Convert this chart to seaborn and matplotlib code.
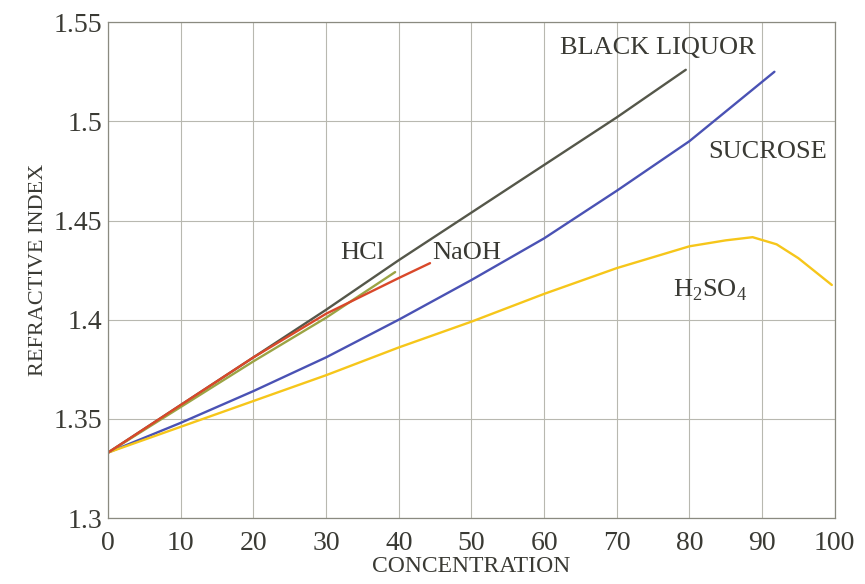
import numpy as np
import pandas as pd
import matplotlib
matplotlib.use("Agg")
import matplotlib.pyplot as plt
import seaborn as sns

# values
black_x = [0, 10, 20, 30, 40, 50, 60, 70, 79.5]
black_y = [1.333, 1.357, 1.381, 1.405, 1.430, 1.454, 1.478, 1.502, 1.526]

sucrose_x = [0, 10, 20, 30, 40, 50, 60, 70, 80, 91.7]
sucrose_y = [1.333, 1.348, 1.364, 1.381, 1.400, 1.420, 1.441, 1.465, 1.490, 1.525]

h2so4_x = [0, 10, 20, 30, 40, 50, 60, 70, 80, 85, 88.7, 92, 95, 99.6]
h2so4_y = [1.333, 1.346, 1.359, 1.372, 1.386, 1.399, 1.413, 1.426, 1.437, 1.440, 1.4416, 1.438, 1.431, 1.4175]

hcl_x = [0, 10, 20, 30, 39.5]
hcl_y = [1.333, 1.356, 1.379, 1.401, 1.424]

naoh_x = [0, 10, 20, 30, 40, 44.3]
naoh_y = [1.333, 1.357, 1.381, 1.403, 1.421, 1.4285]

series = {
    "BLACK LIQUOR": (black_x, black_y),
    "SUCROSE": (sucrose_x, sucrose_y),
    "H2SO4": (h2so4_x, h2so4_y),
    "HCl": (hcl_x, hcl_y),
    "NaOH": (naoh_x, naoh_y),
}
colors = {
    "BLACK LIQUOR": "#55574a",
    "SUCROSE": "#4a52b4",
    "H2SO4": "#f6c61a",
    "HCl": "#9ba444",
    "NaOH": "#d9482a",
}

rows = []
for name, (xs, ys) in series.items():
    for x, y in zip(xs, ys):
        rows.append({"name": name, "conc": x, "ri": y})
df = pd.DataFrame(rows)

sns.set_style("white")
plt.rcParams["font.family"] = ["Liberation Serif", "DejaVu Serif"]
plt.rcParams["mathtext.fontset"] = "custom"
plt.rcParams["mathtext.rm"] = "Liberation Serif"

fig = plt.figure(figsize=(8.65, 5.84), dpi=100)
ax = fig.add_axes([0.125, 0.113, 0.840, 0.849])

sns.lineplot(data=df, x="conc", y="ri", hue="name", palette=colors,
             estimator=None, sort=False, linewidth=1.7, legend=False, ax=ax)

ax.set_xlim(0, 100)
ax.set_ylim(1.3, 1.55)
ax.set_xticks(np.arange(0, 101, 10))
ax.set_yticks([1.3, 1.35, 1.4, 1.45, 1.5, 1.55])
ax.set_yticklabels(["1.3", "1.35", "1.4", "1.45", "1.5", "1.55"])
ax.grid(True, color="#b8b8b0", linewidth=0.8)
for s in ax.spines.values():
    s.set_color("#8a8a80")
    s.set_linewidth(0.9)
tc = "#3a3a34"
ax.tick_params(axis="x", labelsize=20, colors=tc, length=3, width=0.8, pad=6)
ax.tick_params(axis="y", labelsize=20, colors=tc, length=3, width=0.8, pad=1)

ax.set_xlabel("CONCENTRATION", fontsize=17, color=tc, labelpad=0)
ax.set_ylabel("REFRACTIVE INDEX", fontsize=16, color=tc, labelpad=4)

ax.text(75.6, 1.537, "BLACK LIQUOR", fontsize=19, color=tc, ha="center", va="center")
ax.text(90.7, 1.4845, "SUCROSE", fontsize=19, color=tc, ha="center", va="center")
ax.text(82.8, 1.415, "H$_2$SO$_4$", fontsize=19, color=tc, ha="center", va="center")
ax.text(35.0, 1.4335, "HCl", fontsize=19, color=tc, ha="center", va="center")
ax.text(49.4, 1.4335, "NaOH", fontsize=19, color=tc, ha="center", va="center")

fig.savefig("out.png", dpi=100)
